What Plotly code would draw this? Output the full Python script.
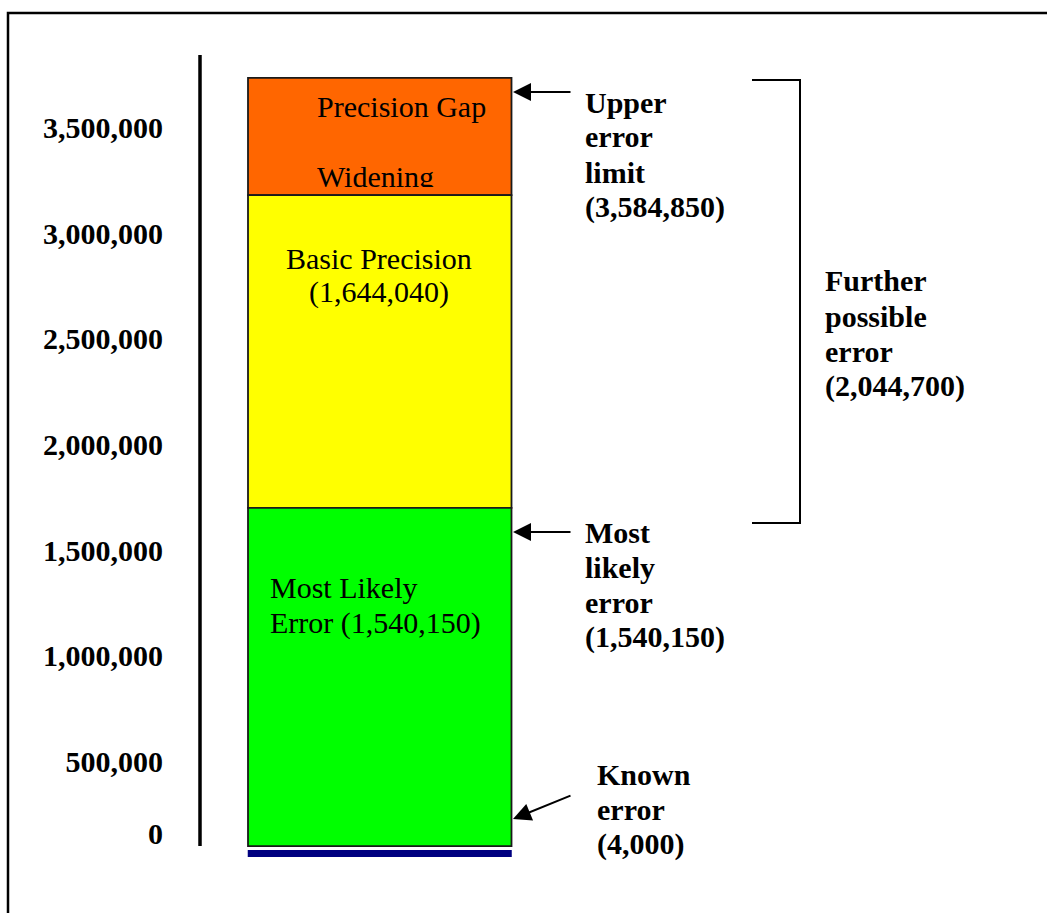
import plotly.graph_objects as go

# ---------------- data ----------------
segment_names = ["Most Likely Error", "Basic Precision", "Precision Gap Widening"]
segment_values = [1600000, 1480000, 555000]          # heights of the stacked blocks
segment_colors = ["#00FF00", "#FFFF00", "#FF6600"]
bar_start = 100000                                   # where the stack starts
known_error_base = 48000                             # thin "known error" bar
known_error_height = 33000

tick_labels = ["0", "500,000", "1,000,000", "1,500,000", "2,000,000",
               "2,500,000", "3,000,000", "3,500,000"]
tick_positions = [160000, 500000, 1000000, 1500000, 2000000,
                  2500000, 3000000, 3500000]

inner_texts = {
    "gap1": "Precision Gap",
    "gap2": "Widening",
    "basic1": "Basic Precision",
    "basic2": "(1,644,040)",
    "mle1": "Most Likely",
    "mle2": "Error (1,540,150)",
}
upper_lines = ["Upper", "error", "limit", "(3,584,850)"]
mle_lines = ["Most", "likely", "error", "(1,540,150)"]
known_lines = ["Known", "error", "(4,000)"]
further_lines = ["Further", "possible", "error", "(2,044,700)"]

# ---------------- layout helpers ----------------
W, H = 1047, 913
Y_RANGE = [-216700, 4103300]
X_RANGE = [-1.4412, 2.5323]
SERIF = "Liberation Serif, Times New Roman, serif"
FS = 30


def px(x):
    return x / W


def py(y):
    return 1 - y / H


bases = [bar_start]
for v in segment_values[:-1]:
    bases.append(bases[-1] + v)

fig = go.Figure()

for i in (2, 1, 0):
    fig.add_trace(go.Bar(
        x=[0], y=[segment_values[i]], base=[bases[i]], width=[1],
        marker=dict(color=segment_colors[i], line=dict(color="#1a1a1a", width=1.8)),
        name=segment_names[i], hoverinfo="skip"))
fig.add_trace(go.Bar(
    x=[0], y=[known_error_height], base=[known_error_base], width=[1.002],
    marker=dict(color="#000080", line=dict(width=0)),
    name="Known error", hoverinfo="skip"))

shapes = [
    # outer frame (open right / bottom)
    dict(type="path", xref="paper", yref="paper",
         path=f"M {px(8)},{py(913)} L {px(8)},{py(13)} L {px(1047)},{py(13)}",
         line=dict(color="black", width=2.5)),
    # vertical axis line
    dict(type="line", xref="paper", yref="paper",
         x0=px(200), x1=px(200), y0=py(55), y1=py(846),
         line=dict(color="black", width=3.5)),
    # bracket
    dict(type="path", xref="paper", yref="paper",
         path=(f"M {px(752)},{py(80)} L {px(800)},{py(80)} "
               f"L {px(800)},{py(523)} L {px(752)},{py(523)}"),
         line=dict(color="black", width=2)),
]

annotations = []


def txt(s, x, y, anchor="left", bold=False, **kw):
    d = dict(
        text=f"<b>{s}</b>" if bold else s, xref="paper", yref="paper",
        x=px(x), y=py(y), xanchor=anchor, yanchor="middle", showarrow=False,
        font=dict(family=SERIF, size=FS, color="black"))
    d.update(kw)
    annotations.append(d)


def arrow(x_tip, y_tip, x_tail, y_tail):
    annotations.append(dict(
        text="", xref="paper", yref="paper", x=px(x_tip), y=py(y_tip),
        ax=x_tail - x_tip, ay=y_tail - y_tip, showarrow=True,
        arrowhead=2, arrowsize=1.8, arrowwidth=2, arrowcolor="black"))


txt(inner_texts["gap1"], 315, 107)
# clipped text box, as in the original drawing
txt(inner_texts["gap2"], 315, 158, yanchor="top", height=27, valign="top")
txt(inner_texts["basic1"], 379, 258, anchor="center")
txt(inner_texts["basic2"], 379, 292, anchor="center")
txt(inner_texts["mle1"], 268, 587)
txt(inner_texts["mle2"], 268, 623)

for i, s in enumerate(upper_lines):
    txt(s, 583, 102 + 35 * i, bold=True)
for i, s in enumerate(mle_lines):
    txt(s, 583, 532 + 35 * i, bold=True)
for i, s in enumerate(known_lines):
    txt(s, 595, 774 + 35 * i, bold=True)
for i, s in enumerate(further_lines):
    txt(s, 823, 281 + 35 * i, bold=True)

arrow(513, 92, 572, 92)
arrow(513, 532, 572, 532)
arrow(513, 819, 572, 795)

axis_common = dict(showgrid=False, zeroline=False, showline=False)
fig.update_layout(
    width=W, height=H, margin=dict(l=0, r=0, t=0, b=0),
    paper_bgcolor="white", plot_bgcolor="white",
    barmode="overlay", showlegend=False,
    xaxis=dict(range=X_RANGE, visible=False, domain=[0, 1], **axis_common),
    yaxis=dict(range=Y_RANGE, domain=[0, 1], anchor="free", position=px(200),
               tickvals=tick_positions, ticktext=[f"<b>{t}</b>" for t in tick_labels],
               ticks="", ticklabelstandoff=37,
               tickfont=dict(family=SERIF, size=FS, color="black"), **axis_common),
    shapes=shapes, annotations=annotations,
)

fig.write_html("out.html")
